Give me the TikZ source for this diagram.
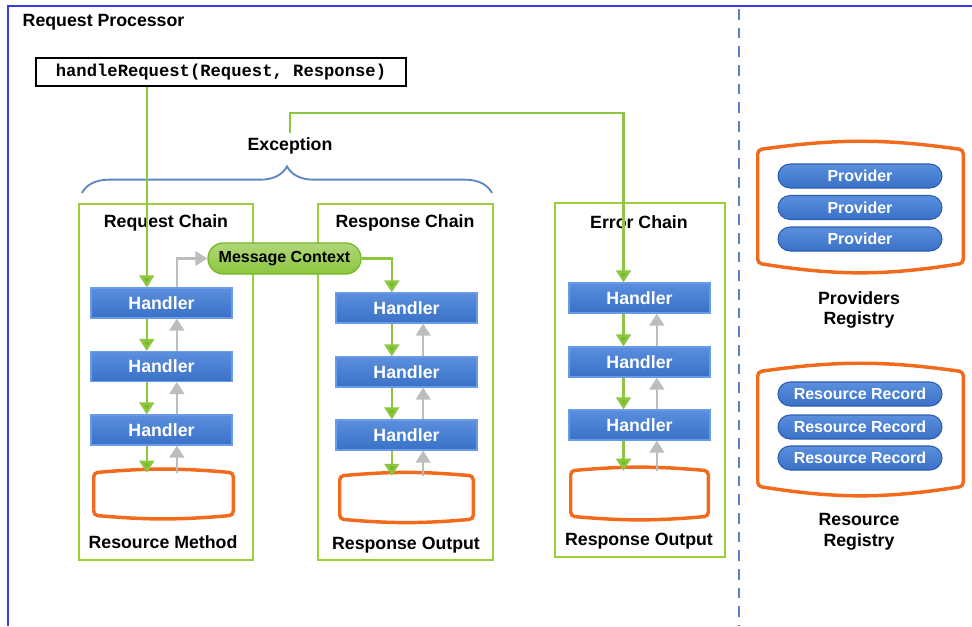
\documentclass[tikz,border=0pt]{standalone}
\usepackage{fontspec}
\setmainfont{Liberation Sans}
\setmonofont{Liberation Mono}
\usepackage{tikz}
\usetikzlibrary{positioning,arrows.meta,decorations.pathreplacing}
\definecolor{frame}{HTML}{3A3AE0}
\definecolor{sep}{HTML}{5B82C4}
\definecolor{leaf}{HTML}{8DC63F}
\definecolor{leafbox}{HTML}{9ECF3A}
\definecolor{leafdark}{HTML}{76B82A}
\definecolor{hblue}{HTML}{3E7BD8}
\definecolor{hblueedge}{HTML}{6A9BEA}
\definecolor{pblueedge}{HTML}{2C5EB4}
\definecolor{rorange}{HTML}{F26B1D}
\definecolor{back}{HTML}{BDBDBD}
\definecolor{brace}{HTML}{5B87C5}

\tikzset{
  lbl/.style={font=\bfseries\fontsize{13.3}{15.5}\selectfont, align=center},
  chain/.style={draw=leafbox, line width=1.5pt, minimum width=130.5pt, minimum height=267pt},
  handler/.style={draw=hblueedge, line width=0.8pt, top color=hblue!85!white, bottom color=hblue!92!black,
    text=white, font=\bfseries\fontsize{13.3}{15}\selectfont, minimum width=105.75pt, minimum height=22.5pt, inner sep=0pt},
  pill/.style={draw=pblueedge, line width=0.8pt, top color=hblue!85!white, bottom color=hblue!92!black,
    rounded corners=9pt, text=white, font=\bfseries\fontsize{12}{14}\selectfont,
    minimum width=123pt, minimum height=18pt, inner sep=0pt},
  ctx/.style={draw=leafdark, line width=1pt, top color=leaf!70!white, bottom color=leaf,
    rounded corners=11.5pt, font=\bfseries\fontsize{12}{14}\selectfont,
    minimum width=114.75pt, minimum height=23.25pt, inner sep=0pt},
  barrel/.style={draw=rorange, line width=2.6pt, rounded corners=3pt},
  flow/.style={draw=leaf, line width=1.9pt, -{Triangle[width=11pt,length=9pt,fill=leafdark]}},
  ret/.style={draw=back, line width=1.6pt, -{Triangle[width=11pt,length=9pt]}},
}

\begin{document}
\begin{tikzpicture}[x=0.75pt,y=-0.75pt]
  \useasboundingbox (0,0) rectangle (972,626);
  % frame and separator
  \draw[frame, line width=2.2pt] (8,626) -- (8,6) -- (972,6);
  \draw[sep, line width=1.3pt, dash pattern=on 8pt off 6pt] (739,9) -- (739,626);

  \path
  (18,22) node(title) [lbl, anchor=west] {Request Processor}
  (221,72) node(hr) [draw, line width=1.5pt, minimum width=277.5pt, minimum height=21pt,
     font=\ttfamily\bfseries\fontsize{12.9}{15}\selectfont] {handleRequest(Request, Response)}
  (290,146) node(exc) [lbl] {Exception}
  (166,382) node(reqbox) [chain] {}
  (405.5,382) node(resbox) [chain, minimum width=131.25pt] {}
  (640,380) node(errbox) [chain, minimum width=127.5pt, minimum height=265.5pt] {}
  (166,223) node(reqt) [lbl] {Request Chain}
  (405,223) node(rest) [lbl] {Response Chain}
  (639,222) node(errt) [lbl] {Error Chain}
  (284.5,258.5) node(mc) [ctx] {Message Context}
  % request chain
  (161.5,303) node(rh1) [handler] {Handler}
  (161.5,366.5) node(rh2) [handler] {Handler}
  (161.5,430) node(rh3) [handler] {Handler}
  (163.5,494) node(rm) [minimum width=104.25pt, minimum height=31.5pt] {}
  (163,542) node(rml) [lbl] {Resource Method}
  % response chain
  (406.5,308) node(sh1) [handler] {Handler}
  (406.5,372) node(sh2) [handler] {Handler}
  (406.5,435) node(sh3) [handler] {Handler}
  (406.5,497.5) node(so) [minimum width=99.75pt, minimum height=32pt] {}
  (406,545) node(sol) [lbl] {Response Output}
  % error chain
  (639.5,298) node(eh1) [handler] {Handler}
  (639.5,362) node(eh2) [handler] {Handler}
  (639.5,425) node(eh3) [handler] {Handler}
  (639.5,493.5) node(eo) [minimum width=102.75pt, minimum height=33.75pt] {}
  (639,541) node(eol) [lbl] {Response Output}
  % registries
  (860.5,206.5) node(preg) [minimum width=153.75pt, minimum height=84.75pt] {}
  (860,176) node(p1) [pill] {Provider}
  (860,207.5) node(p2) [pill] {Provider}
  (860,239) node(p3) [pill] {Provider}
  (859,310) node(pregl) [lbl] {Providers\\Registry}
  (860.5,429) node(rreg) [minimum width=153.75pt, minimum height=85.5pt] {}
  (860,394) node(r1) [pill] {Resource Record}
  (860,427) node(r2) [pill] {Resource Record}
  (860,458) node(r3) [pill] {Resource Record}
  (859,532) node(rregl) [lbl] {Resource\\Registry}
  ;

  \draw[barrel] (rm.north west) to[bend left=5] (rm.north east) -- (rm.south east) to[bend left=5] (rm.south west) -- cycle;
  \draw[barrel] (so.north west) to[bend left=5] (so.north east) -- (so.south east) to[bend left=5] (so.south west) -- cycle;
  \draw[barrel] (eo.north west) to[bend left=5] (eo.north east) -- (eo.south east) to[bend left=5] (eo.south west) -- cycle;
  \draw[barrel] (preg.north west) to[bend left=8] (preg.north east) -- (preg.south east) to[bend left=9] (preg.south west) -- cycle;
  \draw[barrel] (rreg.north west) to[bend left=8] (rreg.north east) -- (rreg.south east) to[bend left=9] (rreg.south west) -- cycle;

  % exception brace
  \coordinate (bl) at (82,193);
  \coordinate (br) at (492,193);
  \coordinate (up) at (0,113);
  \draw[brace, line width=1.4pt, decorate, decoration={brace, amplitude=20pt}] (bl) -- (br);

  % request path
  \draw[flow] ([xshift=-11pt]rh1.north |- hr.south) -- ([xshift=-11pt]rh1.north);
  \draw[flow] ([xshift=-11pt]rh1.south) -- ([xshift=-11pt]rh2.north);
  \draw[flow] ([xshift=-11pt]rh2.south) -- ([xshift=-11pt]rh3.north);
  \draw[flow] ([xshift=-11pt]rh3.south) -- ([xshift=-11pt]rh3.south |- rm.north);
  \draw[ret] ([xshift=11.5pt]rh3.south |- rm.north) -- ([xshift=11.5pt]rh3.south);
  \draw[ret] ([xshift=11.5pt]rh3.north) -- ([xshift=11.5pt]rh2.south);
  \draw[ret] ([xshift=11.5pt]rh2.north) -- ([xshift=11.5pt]rh1.south);
  \draw[ret] ([xshift=11.5pt]rh1.north) |- (mc.west);
  \draw[flow] (mc.east) -| ([xshift=-11pt]sh1.north);

  % response path
  \draw[flow] ([xshift=-11pt]sh1.south) -- ([xshift=-11pt]sh2.north);
  \draw[flow] ([xshift=-11pt]sh2.south) -- ([xshift=-11pt]sh3.north);
  \draw[flow] ([xshift=-11pt]sh3.south) -- ([xshift=-11pt]sh3.south |- so.north);
  \draw[ret] ([xshift=12.5pt]sh3.south |- so.north) -- ([xshift=12.5pt]sh3.south);
  \draw[ret] ([xshift=12.5pt]sh3.north) -- ([xshift=12.5pt]sh2.south);
  \draw[ret] ([xshift=12.5pt]sh2.north) -- ([xshift=12.5pt]sh1.south);

  % error path
  \draw[flow] (exc.north) -- (exc.north |- up) -| ([xshift=-12pt]eh1.north);
  \draw[flow] ([xshift=-12pt]eh1.south) -- ([xshift=-12pt]eh2.north);
  \draw[flow] ([xshift=-12pt]eh2.south) -- ([xshift=-12pt]eh3.north);
  \draw[flow] ([xshift=-12pt]eh3.south) -- ([xshift=-12pt]eh3.south |- eo.north);
  \draw[ret] ([xshift=13pt]eh3.south |- eo.north) -- ([xshift=13pt]eh3.south);
  \draw[ret] ([xshift=13pt]eh3.north) -- ([xshift=13pt]eh2.south);
  \draw[ret] ([xshift=13pt]eh2.north) -- ([xshift=13pt]eh1.south);
\end{tikzpicture}
\end{document}
